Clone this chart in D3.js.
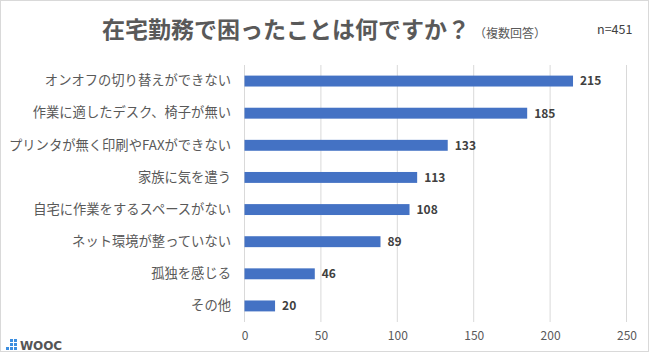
<!DOCTYPE html>
<html><head><meta charset="utf-8">
<script src="https://cdn.jsdelivr.net/npm/d3@7"></script>
<style>body{margin:0;background:#fff;}svg{display:block;}</style>
</head><body>
<script>
const categories = ["オンオフの切り替えができない","作業に適したデスク、椅子が無い","プリンタが無く印刷やFAXができない","家族に気を遣う","自宅に作業をするスペースがない","ネット環境が整っていない","孤独を感じる","その他"];
const values = [215,185,133,113,108,89,46,20];
const ticks = [0,50,100,150,200,250];
const title = "在宅勤務で困ったことは何ですか？";
const subtitle = "（複数回答）";
const note = "n=451";

const W=650,H=353;
const font = "'Noto Sans CJK JP','Noto Sans',sans-serif";
const svg = d3.select("body").append("svg").attr("width",W).attr("height",H);
svg.append("rect").attr("x",0.5).attr("y",0.5).attr("width",W-2).attr("height",H-2).attr("fill","#fff").attr("stroke","#d9d9d9");

const x = d3.scaleLinear().domain([0,250]).range([244.5,626.5]);
const y = d3.scaleBand().domain(categories).range([65,322]).paddingInner(0.66).paddingOuter(0.33);

const g = svg.append("g");
g.selectAll("line.grid").data(ticks).enter().append("line")
 .attr("x1",d=>x(d)).attr("x2",d=>x(d)).attr("y1",65).attr("y2",322)
 .attr("stroke","#d9d9d9").attr("stroke-width",1);

const xAxis = d3.axisBottom(x).tickValues(ticks).tickSize(0).tickPadding(0);
const ax = svg.append("g").attr("transform","translate(0,331)").call(xAxis);
ax.select(".domain").remove();
ax.selectAll("text").attr("fill","#595959").attr("font-size","12px").attr("font-family",font).attr("dy","0.71em");

const yAxis = d3.axisLeft(y).tickSize(0).tickPadding(0);
const ay = svg.append("g").attr("transform","translate(231,0)").call(yAxis);
ay.select(".domain").remove();
ay.selectAll("text").attr("fill","#595959").attr("font-size","13.3px").attr("font-family",font);

g.selectAll("rect.bar").data(values).enter().append("rect")
 .attr("x",x(0)).attr("y",(d,i)=>y(categories[i]))
 .attr("width",d=>x(d)-x(0)).attr("height",y.bandwidth())
 .attr("fill","#4472C4");

g.selectAll("text.val").data(values).enter().append("text")
 .attr("x",d=>x(d)+7).attr("y",(d,i)=>y(categories[i])+y.bandwidth()/2)
 .attr("dy","0.36em").attr("font-size","12px").attr("font-weight","bold")
 .attr("fill","#404040").attr("font-family",font).text(d=>d);

const t = svg.append("text").attr("x",102).attr("y",38).attr("font-family",font).attr("fill","#595959");
t.append("tspan").attr("font-size","23px").attr("font-weight","bold").text(title);
t.append("tspan").attr("font-size","12px").attr("dx","4").text(subtitle);
svg.append("text").attr("x",597).attr("y",34).attr("font-family",font).attr("font-size","12.5px").attr("fill","#404040").text(note);

// logo
const logo = svg.append("g");
const sq = [[6,347],[10,347],[14,347],[10,343],[14,343],[14,339],[10,339]];
logo.selectAll("rect").data(sq).enter().append("rect").attr("x",d=>d[0]).attr("y",d=>d[1]).attr("width",3).attr("height",3).attr("fill","#3c8ee0");
logo.append("text").attr("x",20).attr("y",350).attr("font-family","'DejaVu Sans',sans-serif").attr("font-weight","bold").attr("font-size","12px").attr("fill","#555").attr("textLength",42).text("WOOC");
</script>
</body></html>
